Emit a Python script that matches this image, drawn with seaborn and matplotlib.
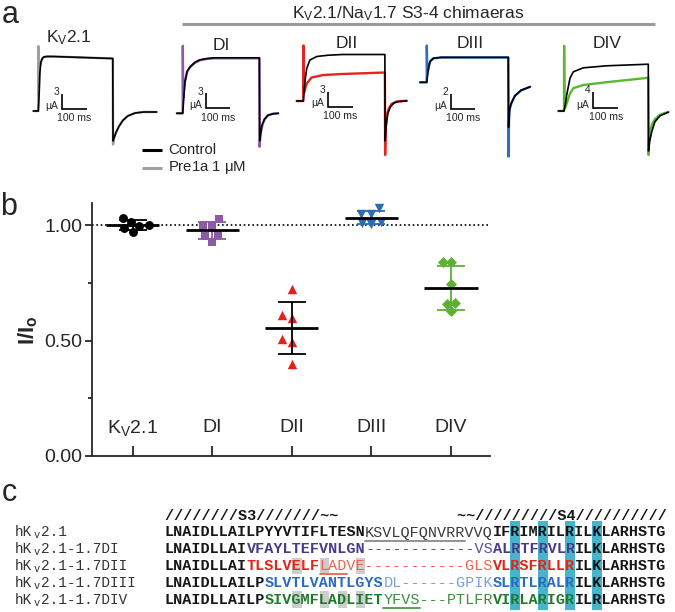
import numpy as np
import pandas as pd
import matplotlib
matplotlib.use("Agg")
import matplotlib.pyplot as plt
from matplotlib.patches import Rectangle
from matplotlib.ticker import FixedLocator, FormatStrFormatter
import seaborn as sns

# ======================= DATA =======================
# ---- panel b : I/Io for each oocyte ----
groups = ["Kv2.1", "DI", "DII", "DIII", "DIV"]
group_labels = [r"K$_\mathregular{V}$2.1", "DI", "DII", "DIII", "DIV"]
kv21_vals = [1.014, 1.000, 0.971, 0.986, 0.997, 1.032]
di_vals = [1.000, 0.957, 1.026, 0.928, 0.954, 1.000]
dii_vals = [0.723, 0.599, 0.610, 0.506, 0.495, 0.397]
diii_vals = [1.050, 1.014, 1.004, 1.007, 1.048, 1.072]
div_vals = [0.841, 0.841, 0.745, 0.661, 0.658, 0.628]
ytick_vals = [0.0, 0.5, 1.0]
yminor_vals = [0.25, 0.75]

# ---- panel a : current traces (time in ms, current in uA) ----
kv21_t_ctrl = [-20, 0, 3, 6, 10, 15, 22, 35, 60, 304, 305, 309, 317, 330, 345, 365, 395, 430, 483]
kv21_i_ctrl = [0, 0, 3, 7.5, 9.6, 10.4, 10.8, 10.9, 10.9, 10.5, -6.0, -5.4, -4.3, -3.0, -1.9, -1.0, -0.4, -0.2, -0.2]
kv21_t_tox = [-20, 0, 0.5, 2, 4, 7, 10, 15, 22, 35, 60, 304, 305, 309, 317, 330, 345, 365, 395, 430, 483]
kv21_i_tox = [0, 0, 13, 3, 6, 8.8, 9.6, 10.4, 10.8, 10.9, 10.9, 10.5, -6.7, -5.6, -4.3, -3.0, -1.9, -1.0, -0.4, -0.2, -0.2]

di_t_ctrl = [-24, 0, 3, 9, 18, 30, 50, 70, 100, 130, 313, 314, 317, 323, 333, 348, 368, 390]
di_i_ctrl = [0, 0, 2, 6.3, 8.4, 9.3, 10.2, 10.7, 10.95, 11.1, 11.1, -5.5, -4.3, -2.5, -1.2, -0.4, -0.1, 0]
di_t_tox = [-24, 0, 0.5, 2, 4, 9, 18, 30, 50, 70, 100, 130, 313, 314, 316, 320, 326, 335, 348, 368, 390]
di_i_tox = [0, 0, 13.5, 3, 4, 6.2, 8.3, 9.2, 10.1, 10.6, 10.9, 11.0, 11.0, -6.7, -5.2, -3.6, -2.2, -1.2, -0.4, -0.1, 0]

dii_t_ctrl = [-27, 0, 4, 9, 14, 27, 55, 100, 160, 333, 334, 338, 345, 355, 370, 390, 422]
dii_i_ctrl = [0, 0, 2.5, 4.8, 6.5, 8.2, 8.9, 9.15, 9.3, 9.3, -8, -5, -2.5, -1.2, -0.4, -0.1, 0]
dii_t_tox = [-27, 0, 0.5, 2, 5, 9, 14, 34, 82, 160, 333, 334, 336, 340, 348, 360, 380, 422]
dii_i_tox = [0, 0, 11.1, 1.5, 1.8, 2.7, 3.5, 4.7, 5.2, 5.4, 5.7, -10.8, -6, -3.2, -1.6, -0.6, -0.1, 0.05]

diii_t_ctrl = [-27, 0, 4, 8, 13.6, 27, 60, 333, 334, 337, 345, 360, 385, 422]
diii_i_ctrl = [0, 0, 1.0, 2.0, 2.75, 3.2, 3.33, 3.33, -6, -3.8, -2.8, -1.8, -1.05, -0.6]
diii_t_tox = [-27, 0, 0.5, 2, 5, 9, 14, 27, 60, 333, 334, 336, 340, 347, 360, 385, 422]
diii_i_tox = [0, 0, 4.9, 1.5, 1.5, 2.2, 2.8, 3.2, 3.3, 3.3, -9.9, -5, -3.4, -2.7, -1.8, -1.1, -0.6]

div_t_ctrl = [-23, 0, 5, 11, 24.5, 38, 79, 174, 344, 345, 350, 358, 371, 392, 426]
div_i_ctrl = [0, 0, 1.5, 4.0, 8.2, 9.8, 10.8, 11.3, 11.7, -10, -7.5, -5.2, -2.7, -1.2, -0.3]
div_t_tox = [-23, 0, 0.5, 2, 5, 11, 24.5, 38, 79, 174, 344, 345, 347, 352, 360, 372, 392, 426]
div_i_tox = [0, 0, 16.3, 1, 0.8, 1.9, 4.4, 5.7, 6.5, 7.2, 8.3, -11, -7.5, -4.8, -3.2, -2.0, -0.9, -0.2]

trace_titles = [r"K$_\mathregular{V}$2.1", "DI", "DII", "DIII", "DIV"]
scalebar_uA = [3, 3, 3, 2, 4]
legend_labels = ["Control", r"Pre1a 1 $\mathregular{\mu}$M"]
header_text = r"K$_\mathregular{V}$2.1/Na$_\mathregular{V}$1.7 S3-4 chimaeras"

# ---- panel c : alignment ----
seq_names = ["hKV2.1", "hKV2.1-1.7DI", "hKV2.1-1.7DII", "hKV2.1-1.7DIII", "hKV2.1-1.7DIV"]
align_header = "////////S3///////~~             ~~/////////S4//////////"
seq_row1 = [("LNAIDLLAILPYYVTIFLTESN", "k"), ("KSVLQFQNVRRVVQ", "kl"), ("IFRIMRILRILKLARHSTG", "k")]
seq_row2 = [("LNAIDLLAI", "k"), ("VFAYLTEFVNLGN", "p"), ("------------VS", "pl"), ("ALRTFRVLR", "p"), ("ILKLARHSTG", "k")]
seq_row3 = [("LNAIDLLAI", "k"), ("TLSLVELF", "r"), ("LADVE-----------GLS", "rl"), ("VLRSFRLLR", "r"), ("ILKLARHSTG", "k")]
seq_row4 = [("LNAIDLLAILP", "k"), ("SLVTLVANTLGYS", "b"), ("DL------GPIK", "bl"), ("SLRTLRALR", "b"), ("ILKLARHSTG", "k")]
seq_row5 = [("LNAIDLLAILP", "k"), ("SIVGMFLADLIET", "g"), ("YFVS---PTLFR", "gl"), ("VIRLARIGR", "g"), ("ILRLARHSTG", "k")]
cyan_cols = [39, 42, 45, 48]
gray_cells = [(2, 15), (2, 18), (2, 22), (4, 15), (4, 18), (4, 20), (4, 22)]
underlines = [(0, 23, 33, "#8a8a8a"), (2, 18, 20, "#f0624d"), (4, 25, 28, "#4c9a4c")]

# ======================= STYLE =======================
sns.set_style("ticks")
plt.rcParams["font.family"] = ["Liberation Sans", "DejaVu Sans"]
plt.rcParams["mathtext.default"] = "regular"

W, H = 675, 612
fig = plt.figure(figsize=(W / 100, H / 100), dpi=100)
NARROW = ["Liberation Sans Narrow", "Liberation Sans", "DejaVu Sans"]

grp_colors = ["#000000", "#8d5aa7", "#e3201b", "#2a6db5", "#5cb130"]
err_colors = ["#000000", "#8d5aa7", "#000000", "#2a6db5", "#5cb130"]
markers = ["o", "s", "^", "v", "D"]
msizes = [6.4, 6.4, 6.8, 6.8, 5.6]

# ======================= PANEL B =======================
df = pd.DataFrame({
    "group": np.repeat(groups, 6),
    "value": np.concatenate([kv21_vals, di_vals, dii_vals, diii_vals, div_vals]),
})
axb = fig.add_axes([92 / W, 1 - 456 / H, (490 - 92) / W, (456 - 202.7) / H])
axb.axhline(1.0, color="k", lw=1.2, ls=(0, (1, 1.6)), zorder=0)
for g, c, m, s in zip(groups, grp_colors, markers, msizes):
    sns.swarmplot(data=df[df.group == g], x="group", y="value", order=groups,
                  color=c, marker=m, size=s, linewidth=0, ax=axb, zorder=2)
stats = df.groupby("group", sort=False)["value"].agg(["mean", "std"]).reindex(groups)
for i, g in enumerate(groups):
    mu, sd = stats.loc[g, "mean"], stats.loc[g, "std"]
    axb.errorbar(i, mu, yerr=sd, fmt="none", ecolor=err_colors[i], elinewidth=1.3,
                 capsize=10, capthick=1.3, zorder=3)
    axb.hlines(mu, i - 0.335, i + 0.335, color="k", lw=2.0, zorder=4)

axb.set_xlim(-0.51, 4.49)
axb.set_ylim(0, 1.097)
sns.despine(ax=axb)
for sp in ["left", "bottom"]:
    axb.spines[sp].set_linewidth(1.3)
axb.yaxis.set_major_locator(FixedLocator(ytick_vals))
axb.yaxis.set_minor_locator(FixedLocator(yminor_vals))
axb.yaxis.set_major_formatter(FormatStrFormatter("%.2f"))
axb.tick_params(axis="y", which="major", length=5, width=1.3, pad=2,
                labelsize=14, direction="out")
axb.tick_params(axis="y", which="minor", length=3.2, width=1.3, direction="out")
for lab in axb.get_yticklabels():
    lab.set_family(NARROW)
axb.tick_params(axis="x", which="major", length=7.2, width=1.3, direction="in")
axb.set_xticklabels([])
for i, lab in enumerate(group_labels):
    axb.text(i, (456 - 428) / (456 - 202.7), lab, transform=axb.get_xaxis_transform(),
             ha="center", va="center", fontsize=14, family=NARROW)
axb.set_xlabel("")
axb.set_ylabel(r"I/I$_\mathregular{o}$", fontsize=16, fontweight="bold", va="center")
axb.yaxis.set_label_coords((28 - 92) / 398, (456 - 330) / 253.3)

# ======================= PANEL A =======================
kx = 0.245
trace_layout = [  # onset x px, baseline y px, px per uA, scalebar corner (ms, uA), title x, baseline
    (38.3, 111.0, 5.0, 98, 0.5, 69, 42),
    (182.7, 113.3, 5.0, 95, 1.0, 221, 50),
    (303.3, 101.0, 5.0, 102, -1.1, 347, 48),
    (426.7, 82.3, 7.5, 99, -3.5, 470, 48),
    (564.0, 111.0, 4.0, 120, 0.8, 607, 48),
]
trace_data = [
    (kv21_t_ctrl, kv21_i_ctrl, kv21_t_tox, kv21_i_tox, "#a0a0a0"),
    (di_t_ctrl, di_i_ctrl, di_t_tox, di_i_tox, "#8d5aa7"),
    (dii_t_ctrl, dii_i_ctrl, dii_t_tox, dii_i_tox, "#e8231f"),
    (diii_t_ctrl, diii_i_ctrl, diii_t_tox, diii_i_tox, "#2f6fc0"),
    (div_t_ctrl, div_i_ctrl, div_t_tox, div_i_tox, "#58b830"),
]

tmin, tmax, imin, imax = -40, 520, -14, 18
for (x0, y0, ky, bt, bi, tx, ty), (tc, ic, tt, it, col), ttl, nuA in zip(
        trace_layout, trace_data, trace_titles, scalebar_uA):
    left, right = x0 + tmin * kx, x0 + tmax * kx
    top, bottom = y0 - imax * ky, y0 - imin * ky
    ax = fig.add_axes([left / W, 1 - bottom / H, (right - left) / W, (bottom - top) / H])
    ax.set_xlim(tmin, tmax)
    ax.set_ylim(imin, imax)
    ax.axis("off")
    sns.lineplot(x=tt, y=it, sort=False, estimator=None, color=col, lw=1.7, ax=ax, zorder=2)
    sns.lineplot(x=tc, y=ic, sort=False, estimator=None, color="k", lw=1.2, ax=ax, zorder=3)
    # scale bar
    ax.plot([bt, bt, bt + 100], [bi + nuA, bi, bi], color="k", lw=1.2,
            solid_joinstyle="miter", solid_capstyle="butt")
    ax.text(bt - 2.5 / kx, bi + nuA + 1.5 / ky, str(nuA), ha="right", va="center", fontsize=7.4)
    ax.text(bt - 2.5 / kx, bi + 3.0 / ky, r"$\mathregular{\mu}$A", ha="right", va="center", fontsize=7.4)
    ax.text(bt + 50, bi - 9.5 / ky, "100 ms", ha="center", va="center", fontsize=7.6)

# ======================= OVERLAY (pixel coords) =======================
ov = fig.add_axes([0, 0, 1, 1])
ov.set_xlim(0, W)
ov.set_ylim(H, 0)
ov.axis("off")

for (x0, y0, ky, bt, bi, tx, ty), ttl in zip(trace_layout, trace_titles):
    ov.text(tx, ty, ttl, ha="center", va="baseline", fontsize=12.5)

ov.text(408, 18, header_text, ha="center", va="baseline", fontsize=12.5)
ov.plot([182, 655], [24, 24], color="#9a9a9a", lw=2.2, solid_capstyle="butt")

# legend
for k, (lab, c) in enumerate(zip(legend_labels, ["k", "#a0a0a0"])):
    yy = 150 + 18 * k
    ov.plot([142, 162], [yy, yy], color=c, lw=2.2, solid_capstyle="butt")
    ov.text(168, yy, lab, ha="left", va="center", fontsize=10.7)

# panel letters
ov.text(10, 15, "a", ha="center", va="center", fontsize=22)
ov.text(9, 207, "b", ha="center", va="center", fontsize=22)
ov.text(9, 493, "c", ha="center", va="center", fontsize=22)

# ======================= PANEL C =======================
MONO = ["Liberation Mono", "DejaVu Sans Mono"]
cw = 9.1
cx0 = 165.0
row_y = [532 + 16.8 * r for r in range(5)]
styles = {
    "k": ("#161616", "bold"), "kl": ("#3a3a3a", "normal"),
    "p": ("#4b3a8a", "bold"), "pl": ("#5e4f9e", "normal"),
    "r": ("#e5231b", "bold"), "rl": ("#f0624d", "normal"),
    "b": ("#2c6cc0", "bold"), "bl": ("#7ba1d8", "normal"),
    "g": ("#1f7a2a", "bold"), "gl": ("#3d8f3d", "normal"),
}
# cyan S4 charge columns
for c in cyan_cols:
    ov.add_patch(Rectangle((cx0 + (c - 1) * cw - 0.5, 521), cw + 1, 89,
                           facecolor="#45b4cc", edgecolor="none", zorder=1))
for r, c in gray_cells:
    ov.add_patch(Rectangle((cx0 + (c - 1) * cw, row_y[r] - 8), cw, 16.5,
                           facecolor="#cdcdcd", edgecolor="none", zorder=1))
for r, c1, c2, col in underlines:
    ov.plot([cx0 + (c1 - 1) * cw, cx0 + c2 * cw], [row_y[r] + 8.5] * 2, color=col, lw=1.3, zorder=2)

ov.text(cx0, 520, align_header, family=MONO, fontweight="bold", fontsize=10.9,
        ha="left", va="baseline", color="#161616", zorder=3)
for r, row in enumerate([seq_row1, seq_row2, seq_row3, seq_row4, seq_row5]):
    col = 0
    for seg, st in row:
        clr, wt = styles[st]
        ov.text(cx0 + col * cw, row_y[r] + 4.5, seg, family=MONO, fontweight=wt,
                fontsize=10.9, color=clr, ha="left", va="baseline", zorder=3)
        col += len(seg)
    # name
    nm = seq_names[r]
    nx, ncw = 15.0, 8.7
    ov.text(nx, row_y[r] + 4.5, nm[:2], family=MONO, fontsize=10.4, color="#333333",
            ha="left", va="baseline")
    ov.text(nx + 2 * ncw + 1, row_y[r] + 6.5, nm[2].lower(), family=MONO, fontsize=7.5,
            color="#333333", ha="left", va="baseline")
    ov.text(nx + 3 * ncw, row_y[r] + 4.5, nm[3:], family=MONO, fontsize=10.4, color="#333333",
            ha="left", va="baseline")

fig.savefig("out.png", dpi=100)
